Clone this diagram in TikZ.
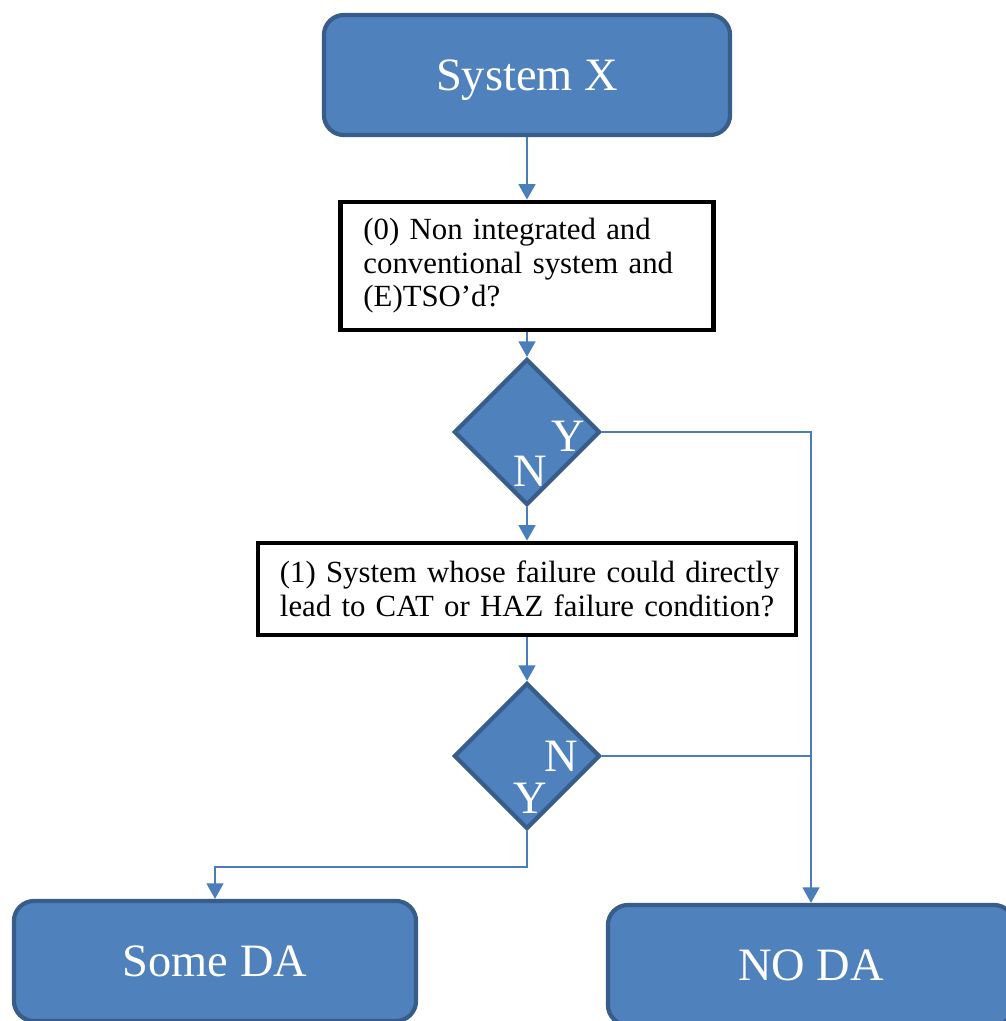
\documentclass[tikz,border=0pt]{standalone}
\usepackage{fontspec}
\setmainfont{Liberation Serif}
\usetikzlibrary{shapes.geometric,arrows.meta}
\definecolor{boxblue}{HTML}{4F81BD}
\definecolor{edgeblue}{HTML}{385D8A}
\definecolor{lineblue}{HTML}{4A7EBB}
\begin{document}
\begin{tikzpicture}[x=0.025cm,y=-0.025cm,
    endbox/.style={draw=edgeblue,fill=boxblue,line width=3pt,rounded corners=0.5cm,
      minimum width=10.15cm,minimum height=3cm,text=white,
      font=\fontsize{33}{36}\selectfont,text height=21.5pt,text depth=0pt},
    qbox/.style={draw=black,fill=white,line width=3.4pt,align=left,
      font=\fontsize{21.9}{23.8}\selectfont},
    decide/.style={diamond,aspect=1,draw=edgeblue,fill=boxblue,line width=3pt,
      minimum width=3.65cm,minimum height=3.65cm,inner sep=0pt},
    yn/.style={text=white,font=\fontsize{33}{36}\selectfont,
      text height=21.5pt,text depth=0pt,inner sep=0pt},
    link/.style={draw=lineblue,line width=1.2pt},
    arr/.style={link,-{Triangle[length=11pt,width=12pt]}}]
  \useasboundingbox (0,0) rectangle (1006,1021);
  \clip (0,0) rectangle (1006,1021);
  \node[endbox] (sysx) at (527,75) {System X};
  \node[qbox,text width=8.175cm,inner xsep=0.575cm,minimum height=3.2cm] (q0) at (527,266)
    {\mbox{(0) Non integrated and}\\\mbox{conventional system and}\\(E)TSO’d?};
  \node[decide] (d1) at (527,432) {};
  \node[qbox,text width=12.35cm,inner xsep=0.55cm,minimum height=2.3cm] (q1) at (527,589)
    {\mbox{(1) System whose failure could directly}\\\mbox{lead to CAT or HAZ failure condition?}};
  \node[decide] (d2) at (527,756) {};
  \node[endbox,minimum width=10.05cm] (some) at (215,961) {Some DA};
  \node[endbox] (noda) at (811,965) {NO DA};
  % Y / N labels
  \node[yn] (d1y) at ([shift={(41,4)}]d1.center) {Y};
  \node[yn] (d1n) at ([shift={(3,39)}]d1.center) {N};
  \node[yn] (d2n) at ([shift={(34,0)}]d2.center) {N};
  \node[yn] (d2y) at ([shift={(3,42)}]d2.center) {Y};
  % connectors
  \draw[arr] (sysx) -- (q0);
  \draw[arr] (q0) -- (d1);
  \draw[arr] (d1) -- (q1);
  \draw[arr] (q1) -- (d2);
  \draw[arr] (d1.east) -| (noda.north);
  \draw[link] (d2.east) -- (d2.east -| noda.north);
  \draw[arr] (d2.south) -- ++(0,36) -| (some.north);
\end{tikzpicture}
\end{document}
